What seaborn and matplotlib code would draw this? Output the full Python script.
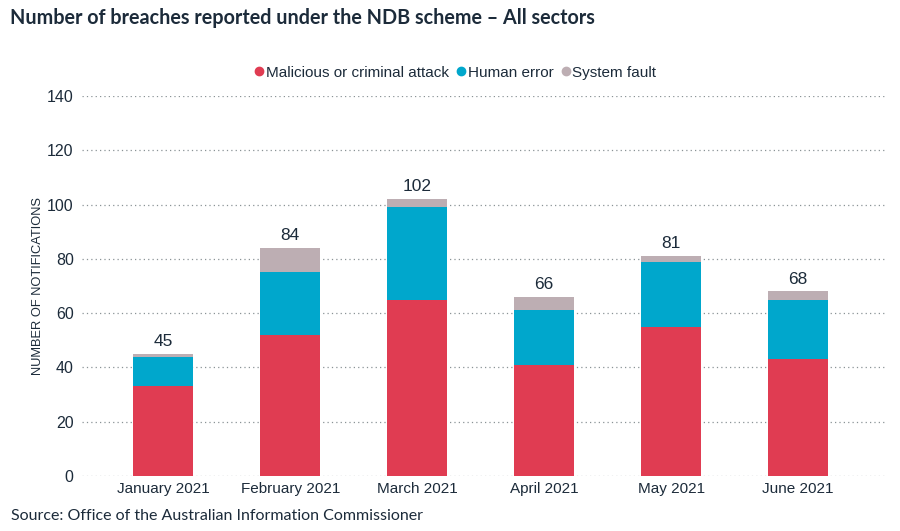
import matplotlib
matplotlib.use('Agg')
import matplotlib.pyplot as plt
from matplotlib.lines import Line2D
import seaborn as sns
import numpy as np

months = ["January 2021", "February 2021", "March 2021", "April 2021", "May 2021", "June 2021"]
malicious = [33, 52, 65, 41, 55, 43]
human_error = [11, 23, 34, 20, 24, 22]
system_fault = [1, 9, 3, 5, 2, 3]
y_ticks = [0, 20, 40, 60, 80, 100, 120, 140]

colors = {"Malicious or criminal attack": "#e03c52",
          "Human error": "#00a7cc",
          "System fault": "#bdaeb3"}

sns.set_theme(style="white")
plt.rcParams['font.family'] = ['Liberation Sans', 'DejaVu Sans']
text_col = "#1c2b3a"

fig = plt.figure(figsize=(9, 5.31), dpi=100)
ax = fig.add_axes([0.0911, 0.1036, 0.8945, 0.7156])

mal = np.array(malicious)
hum = np.array(human_error)
sysf = np.array(system_fault)

# stacked bars: each layer sits on the sum of the ones below
sns.barplot(x=months, y=mal, ax=ax, color=colors["Malicious or criminal attack"],
            width=0.47, saturation=1, linewidth=0)
sns.barplot(x=months, y=hum, bottom=mal, ax=ax, color=colors["Human error"],
            width=0.47, saturation=1, linewidth=0)
sns.barplot(x=months, y=sysf, bottom=mal + hum, ax=ax, color=colors["System fault"],
            width=0.47, saturation=1, linewidth=0)

totals = mal + hum + sysf
for i, t in enumerate(totals):
    ax.text(i, t + 1.8, str(t), ha='center', va='bottom', fontsize=12.5, color=text_col)

ax.set_ylim(0, 140)
ax.set_xlim(-0.64, 5.7)
ax.set_yticks(y_ticks)
ax.yaxis.grid(True, linestyle=(0, (1, 2.5)), color="#8a9396", linewidth=0.9)
ax.set_axisbelow(True)
for s in ax.spines.values():
    s.set_visible(False)
ax.tick_params(axis='both', length=0, labelsize=11.5, colors=text_col, pad=6)
ax.tick_params(axis='x', pad=4, labelsize=11)
ax.set_xlabel("")
ax.set_ylabel("NUMBER OF NOTIFICATIONS", fontsize=9.3, color=text_col, labelpad=2)

handles = [Line2D([0], [0], marker='o', linestyle='', markersize=6,
                  markerfacecolor=c, markeredgecolor=c, label=k) for k, c in colors.items()]
fig.legend(handles=handles, loc='center', bbox_to_anchor=(0.505, 0.863), ncol=3,
           frameon=False, fontsize=11, handletextpad=0.05, columnspacing=0.4,
           labelcolor=text_col, handlelength=0.8)

fig.text(0.011, 0.966, "Number of breaches reported under the NDB scheme \u2013 All sectors",
         fontsize=14.2, fontweight='bold', family=['Lato', 'DejaVu Sans'],
         color=text_col, ha='left', va='center')
fig.text(0.012, 0.028, "Source: Office of the Australian Information Commissioner",
         fontsize=11.5, family=['Lato', 'DejaVu Sans'], color=text_col, ha='left', va='center')

fig.savefig("out.png", dpi=100)
plt.close(fig)
